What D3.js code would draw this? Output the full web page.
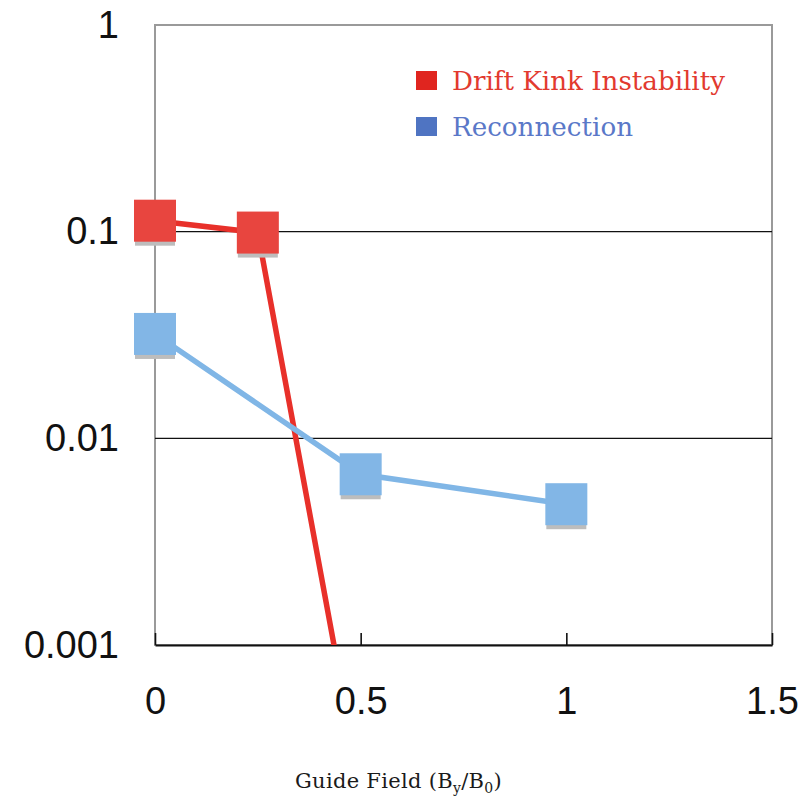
<!DOCTYPE html>
<html>
<head>
<meta charset="utf-8">
<script src="https://cdn.jsdelivr.net/npm/d3@7"></script>
<style>
  html, body { margin: 0; padding: 0; background: #fff; }
  svg { display: block; }
</style>
</head>
<body>
<svg id="chart" width="809" height="806"></svg>
<script>
// Guide field values and growth rates for each series
const driftKinkField = [0, 0.25, 0.5];
const driftKinkRate  = [0.113, 0.099, 0.0002];
const reconnField    = [0, 0.5, 1];
const reconnRate     = [0.032, 0.0067, 0.0048];

const xTicks = [0, 0.5, 1, 1.5];
const xTickLabels = ["0", "0.5", "1", "1.5"];
const yTicks = [0.001, 0.01, 0.1, 1];
const yTickLabels = ["0.001", "0.01", "0.1", "1"];
const gridValues = [0.01, 0.1];

const seriesNames = ["Drift Kink Instability", "Reconnection"];

const svg = d3.select("#chart");
const plotLeft = 155, plotRight = 772, plotTop = 25, plotBottom = 645;

const x = d3.scaleLinear().domain([0, 1.5]).range([plotLeft, plotRight]);
const y = d3.scaleLog().domain([0.001, 1]).range([plotBottom, plotTop]);

// frame
svg.append("rect")
  .attr("x", plotLeft).attr("y", plotTop)
  .attr("width", plotRight - plotLeft).attr("height", plotBottom - plotTop)
  .attr("fill", "none").attr("stroke", "#9a9a9a").attr("stroke-width", 2);

// horizontal grid lines
svg.append("g").selectAll("line").data(gridValues).join("line")
  .attr("x1", plotLeft).attr("x2", plotRight)
  .attr("y1", d => y(d)).attr("y2", d => y(d))
  .attr("stroke", "#111").attr("stroke-width", 1.3);

// x axis with inward ticks
const xAxis = d3.axisBottom(x)
  .tickValues(xTicks)
  .tickFormat((d, i) => xTickLabels[i])
  .tickSizeInner(-12).tickSizeOuter(0).tickPadding(42);
const gx = svg.append("g").attr("transform", `translate(0,${plotBottom})`).call(xAxis);
gx.select(".domain").attr("stroke", "#111").attr("stroke-width", 2);
gx.selectAll(".tick line").attr("stroke", "#111").attr("stroke-width", 1.6);
gx.selectAll(".tick text")
  .attr("font-family", "Liberation Sans, Arial, sans-serif")
  .attr("font-size", 38).attr("fill", "#111");

// y axis labels only
const yAxis = d3.axisLeft(y)
  .tickValues(yTicks)
  .tickFormat((d, i) => yTickLabels[i])
  .tickSize(0).tickPadding(36);
const gy = svg.append("g").attr("transform", `translate(${plotLeft},0)`).call(yAxis);
gy.select(".domain").remove();
gy.selectAll(".tick text")
  .attr("font-family", "Liberation Sans, Arial, sans-serif")
  .attr("font-size", 38).attr("fill", "#111");

// clip for lines
svg.append("clipPath").attr("id", "plotClip")
  .append("rect").attr("x", plotLeft).attr("y", plotTop)
  .attr("width", plotRight - plotLeft).attr("height", plotBottom - plotTop);

const series = [
  { xs: driftKinkField, ys: driftKinkRate, line: "#e8302a", mark: "#e8453f" },
  { xs: reconnField,    ys: reconnRate,    line: "#80b6e6", mark: "#82b6e6" }
];

const lineGen = d3.line().x(d => x(d[0])).y(d => y(d[1]));

series.forEach(s => {
  const pts = s.xs.map((v, i) => [v, s.ys[i]]);
  svg.append("path")
    .datum(pts)
    .attr("d", lineGen)
    .attr("clip-path", "url(#plotClip)")
    .attr("fill", "none")
    .attr("stroke", s.line)
    .attr("stroke-width", 5.5);
});

// square markers with a soft grey shadow, drawn above the lines
const size = 42;
series.forEach(s => {
  const pts = s.xs.map((v, i) => [v, s.ys[i]]).filter(d => d[1] >= 0.001);
  const g = svg.append("g");
  g.selectAll("rect.shadow").data(pts).join("rect")
    .attr("class", "shadow")
    .attr("x", d => x(d[0]) - size / 2 + 1)
    .attr("y", d => y(d[1]) - size / 2 + 4)
    .attr("width", size - 2).attr("height", size)
    .attr("fill", "#bdbdbd");
  g.selectAll("rect.mark").data(pts).join("rect")
    .attr("class", "mark")
    .attr("x", d => x(d[0]) - size / 2)
    .attr("y", d => y(d[1]) - size / 2)
    .attr("width", size).attr("height", size)
    .attr("fill", s.mark);
});

// legend
const legend = [
  { name: seriesNames[0], box: "#e0251f", text: "#e23a2f", y: 90, len: 273 },
  { name: seriesNames[1], box: "#4f74c2", text: "#5a78c8", y: 136, len: 181 }
];
legend.forEach(l => {
  svg.append("rect")
    .attr("x", 416).attr("y", l.y - 19)
    .attr("width", 21).attr("height", 19)
    .attr("fill", l.box);
  svg.append("text")
    .attr("x", 452).attr("y", l.y)
    .attr("font-family", "DejaVu Serif, serif")
    .attr("font-size", 26)
    .attr("textLength", l.len)
    .attr("lengthAdjust", "spacingAndGlyphs")
    .attr("fill", l.text)
    .text(l.name);
});

// x axis title with subscripts
const title = svg.append("text")
  .attr("x", 295).attr("y", 788)
  .attr("font-family", "DejaVu Serif, serif")
  .attr("font-size", 21)
  .attr("letter-spacing", 0.3)
  .attr("fill", "#1a1a1a");
title.append("tspan").text("Guide Field (B");
title.append("tspan").attr("font-size", 14).attr("dy", 5).text("y");
title.append("tspan").attr("dy", -5).text("/B");
title.append("tspan").attr("font-size", 14).attr("dy", 5).text("0");
title.append("tspan").attr("dy", -5).text(")");
</script>
</body>
</html>
